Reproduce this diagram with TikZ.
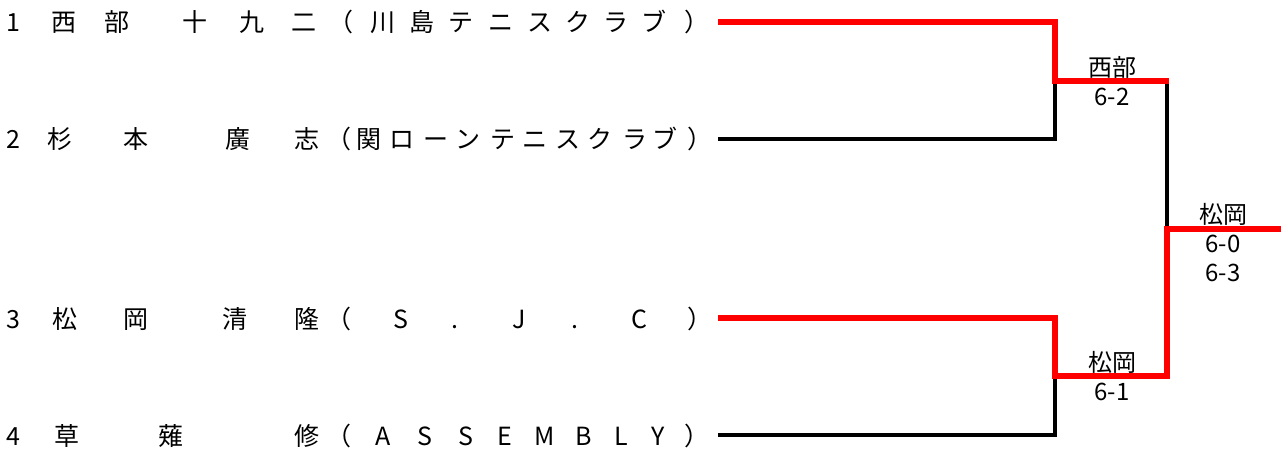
\documentclass[tikz,border=0pt]{standalone}
\usepackage{fontspec}
\newfontfamily\jp{Noto Sans CJK JP}
\begin{document}
\begin{tikzpicture}[x=1pt,y=-1pt,
  ch/.style={font=\jp\fontsize{25}{25}\selectfont, inner sep=0pt, anchor=base},
  lab/.style={font=\jp\fontsize{24}{29}\selectfont, inner sep=0pt, align=center, anchor=center},
  redline/.style={draw=red, line width=5.4pt, line join=miter},
  blackline/.style={draw=black, line width=3.2pt, line join=miter}]
\useasboundingbox (0,0) rectangle (1281,450);
% player texts
\foreach \x/\c [count=\i] in {13/1, 64/西, 117/部, 195/十, 252/九, 304/二, 341/（, 383/川, 422/島, 461/テ, 501/ニ, 540/ス, 578/ク, 616/ラ, 654/ブ, 697/）}
  \node[ch] (ra\i) at (\x,31.5) {\c};
\foreach \x/\c [count=\i] in {13/2, 60/杉, 136/本, 238/廣, 307/志, 339/（, 369/関, 402/ロ, 436/ー, 468/ン, 503/テ, 535/ニ, 568/ス, 600/ク, 635/ラ, 665/ブ, 700/）}
  \node[ch] (rb\i) at (\x,148.5) {\c};
\foreach \x/\c [count=\i] in {13/3, 65/松, 136/岡, 235/清, 307/隆, 339/（, 401/S, 455/., 519/J, 575/., 639/C, 700/）}
  \node[ch] (rc\i) at (\x,328.5) {\c};
\foreach \x/\c [count=\i] in {13/4, 67/草, 171/薙, 307/修, 339/（, 383/A, 425/S, 466/S, 505/E, 545/M, 584/B, 621/L, 658/Y, 697/）}
  \node[ch] (rd\i) at (\x,445.5) {\c};
% bracket coordinates
\coordinate (p1) at (718,22);
\coordinate (p2) at (718,139);
\coordinate (p3) at (718,318);
\coordinate (p4) at (718,435);
\coordinate (m1) at (1055,81);
\coordinate (m2) at (1055,376);
\coordinate (s1) at (1167,81);
\coordinate (s2) at (1167,376);
\coordinate (f) at (1167,229);
\coordinate (w) at (1281,229);
% black lines
\draw[blackline] (p2) -| (m1);
\draw[blackline] (p4) -| (m2);
\draw[blackline] (s1) -- (f);
% red lines
\draw[redline] (p1) -| (m1) -- ([xshift=1.6pt]s1);
\draw[redline] (p3) -| (m2) -- (s2) -- (f) -- (w);
% labels
\node[lab] (l1) at (1112,81) {西部\\6-2};
\node[lab] (l2) at (1112,376) {松岡\\6-1};
\node[lab] (l3) at (1223,243) {松岡\\6-0\\6-3};
\end{tikzpicture}
\end{document}
